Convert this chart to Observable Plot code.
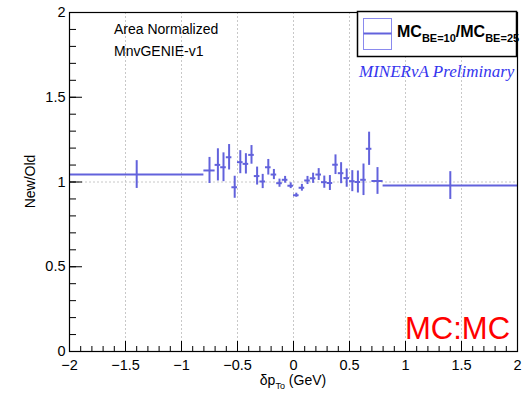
<!DOCTYPE html>
<html>
<head>
<meta charset="utf-8">
<script src="https://cdn.jsdelivr.net/npm/d3@7"></script>
<script src="https://cdn.jsdelivr.net/npm/@observablehq/plot@0.6"></script>
<style>
  html, body { margin: 0; padding: 0; background: white; }
  #chart { width: 527px; height: 396px; overflow: hidden; }
</style>
</head>
<body>
<div id="chart"></div>
<script>
// ---- data ----
const binEdges = [-2, -0.8, -0.7, -0.65, -0.6, -0.55, -0.5, -0.45, -0.4, -0.35, -0.3, -0.25, -0.2, -0.15, -0.1, -0.05, 0,
  0.05, 0.1, 0.15, 0.2, 0.25, 0.3, 0.35, 0.4, 0.45, 0.5, 0.55, 0.6, 0.65, 0.7, 0.8, 2];
const ratio = [1.044, 1.068, 1.101, 1.087, 1.146, 0.969, 1.117, 1.107, 1.160, 1.035, 1.003, 1.087, 1.044, 0.993, 1.013, 0.978,
  0.922, 0.966, 1.009, 1.022, 1.044, 0.999, 0.994, 1.102, 1.052, 1.023, 1.005, 1.000, 1.013, 1.196, 1.006, 0.979];
const ratioErr = [0.082, 0.077, 0.095, 0.085, 0.075, 0.065, 0.068, 0.060, 0.055, 0.053, 0.042, 0.046, 0.030, 0.024, 0.020, 0.017,
  0.012, 0.020, 0.024, 0.030, 0.035, 0.036, 0.044, 0.058, 0.062, 0.054, 0.062, 0.065, 0.093, 0.098, 0.079, 0.082];
const xTicks = [-2, -1.5, -1, -0.5, 0, 0.5, 1, 1.5, 2];
const yTicks = [0, 0.5, 1, 1.5, 2];
const xMinorTicks = d3.range(-20, 21).map(i => i / 10);
const yMinorTicks = d3.range(0, 21).map(i => i / 10);

const bins = ratio.map((v, i) => ({
  lo: binEdges[i], hi: binEdges[i + 1], c: (binEdges[i] + binEdges[i + 1]) / 2,
  v, e: ratioErr[i]
}));

const FONT = "'Liberation Sans', Arial, Helvetica, sans-serif";
const BLUE = "#6262dc";
const fmt = d => String(d).replace("-", "\u2212");

const chart = Plot.plot({
  width: 527, height: 396,
  marginLeft: 69, marginRight: 10, marginTop: 12, marginBottom: 45,
  x: {domain: [-2, 2]},
  y: {domain: [0, 2]},
  style: {fontFamily: FONT, fontSize: "14.5px", color: "black", background: "white", overflow: "visible"},
  marks: [
    Plot.gridX(xTicks.slice(1, -1), {stroke: "#c8c8c8", strokeOpacity: 1, strokeDasharray: "2,2"}),
    Plot.ruleY([1], {stroke: "#c8c8c8", strokeDasharray: "2,2"}),
    Plot.axisX(xTicks, {tickSize: 0, tickPadding: 8, tickFormat: fmt, label: null}),
    Plot.axisX(xTicks, {tickSize: -10, text: null, label: null, strokeWidth: 1}),
    Plot.axisX(xMinorTicks, {tickSize: -5, text: null, label: null, strokeWidth: 1}),
    Plot.axisY(yTicks, {tickSize: 0, tickPadding: 4, tickFormat: fmt, label: null}),
    Plot.axisY(yTicks, {tickSize: -13, text: null, label: null, strokeWidth: 1}),
    Plot.axisY(yMinorTicks, {tickSize: -7, text: null, label: null, strokeWidth: 1}),
    Plot.ruleY(bins, {y: "v", x1: "lo", x2: "hi", stroke: BLUE, strokeWidth: 2}),
    Plot.ruleX(bins, {x: "c", y1: d => d.v - d.e, y2: d => d.v + d.e, stroke: BLUE, strokeWidth: 2}),
    Plot.frame({stroke: "black", strokeWidth: 1.2})
  ]
});
document.getElementById("chart").appendChild(chart);

// ---- annotations ----
const svg = d3.select(chart);
const xs = chart.scale("x"), ys = chart.scale("y");
const g = svg.append("g").attr("font-family", FONT).attr("text-anchor", "start");

g.append("text").attr("x", 114).attr("y", 34).attr("font-size", 14).text("Area Normalized");
g.append("text").attr("x", 114).attr("y", 56).attr("font-size", 14).text("MnvGENIE-v1");

// legend
g.append("rect").attr("x", 357.5).attr("y", 11.5).attr("width", 159).attr("height", 45)
  .attr("fill", "white").attr("stroke", "black").attr("stroke-width", 1.5);
g.append("rect").attr("x", 363.5).attr("y", 18.5).attr("width", 28).attr("height", 31)
  .attr("fill", "none").attr("stroke", "#8a8aee").attr("stroke-width", 1);
g.append("line").attr("x1", 363.5).attr("x2", 391.5).attr("y1", 33.5).attr("y2", 33.5)
  .attr("stroke", BLUE).attr("stroke-width", 2);
const lt = g.append("text").attr("x", 397).attr("y", 37).attr("font-size", 16).attr("font-weight", "bold");
lt.append("tspan").text("MC");
lt.append("tspan").attr("font-size", 11).attr("dy", 5).text("BE=10");
lt.append("tspan").attr("dy", -5).text("/MC");
lt.append("tspan").attr("font-size", 11).attr("dy", 5).text("BE=25");

g.append("text").attr("x", 359).attr("y", 77).attr("font-size", 17)
  .attr("font-family", "'Liberation Serif', 'Times New Roman', serif").attr("font-style", "italic")
  .attr("fill", "#3535ee").text("MINERvA Preliminary");

g.append("text").attr("x", 405).attr("y", 339).attr("font-size", 31).attr("fill", "#ff0000").text("MC:MC");

// axis titles
const xt = g.append("text").attr("x", xs.apply(0)).attr("y", 385).attr("font-size", 14).attr("text-anchor", "middle");
xt.append("tspan").text("δp");
xt.append("tspan").attr("font-size", 9).attr("dy", 4).text("To");
xt.append("tspan").attr("dy", -4).text(" (GeV)");

g.append("text").attr("transform", `translate(35,${ys.apply(1)}) rotate(-90)`)
  .attr("font-size", 14).attr("text-anchor", "middle").text("New/Old");
</script>
</body>
</html>
